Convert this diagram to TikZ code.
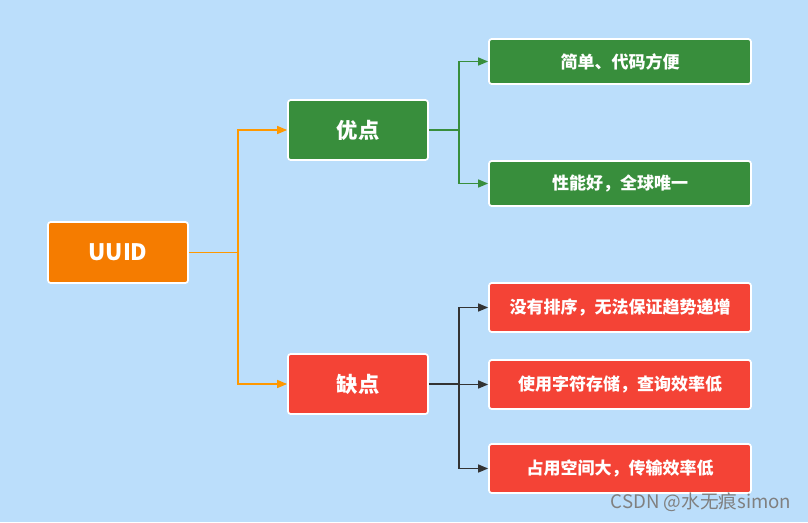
\documentclass[tikz,border=0pt]{standalone}
\usepackage{fontspec}
\newfontfamily\cjk{Noto Sans CJK SC}
\usetikzlibrary{arrows.meta}
\definecolor{bgblue}{HTML}{BBDEFB}
\definecolor{rootorange}{HTML}{F57C00}
\definecolor{linkorange}{HTML}{FF9800}
\definecolor{goodgreen}{HTML}{388E3C}
\definecolor{badred}{HTML}{F44336}
\definecolor{linkdark}{HTML}{333333}

\begin{document}
\begin{tikzpicture}[x=0.75pt,y=-0.75pt,
    box/.style={draw=white, line width=1.3pt, rounded corners=2pt, text=white,
      inner sep=0pt, font=\cjk\bfseries},
    mid/.style={box, minimum width=105pt, minimum height=45pt, font=\cjk\bfseries\fontsize{16}{19}\selectfont},
    leaf/.style={box, minimum width=196.5pt, font=\cjk\bfseries\fontsize{12.75}{15}\selectfont},
    link/.style={line width=1.1pt, -{Triangle[length=7.5pt,width=6pt]}}]
    \fill [bgblue] (0,0) rectangle (808,522) ;
    % root and first level
    \node [mid, fill=rootorange, minimum height=45.75pt,
      font=\cjk\bfseries\fontsize{17}{20}\selectfont] (uuid) at (118,252.5) {UUID} ;
    \node [mid, fill=goodgreen] (good) at (358,130) {优点} ;
    \node [mid, fill=badred] (bad) at (358,384) {缺点} ;
    % leaves
    \node [leaf, fill=goodgreen, minimum height=33.75pt] (good1) at (620,61.5) {简单、代码方便} ;
    \node [leaf, fill=goodgreen, minimum height=33.75pt] (good2) at (620,183.5) {性能好，全球唯一} ;
    \node [leaf, fill=badred, minimum height=36.75pt] (bad1) at (620,307.5) {没有排序，无法保证趋势递增} ;
    \node [leaf, fill=badred, minimum height=36.75pt] (bad2) at (620,384.5) {使用字符存储，查询效率低} ;
    \node [leaf, fill=badred, minimum height=36.75pt] (bad3) at (620,468.5) {占用空间大，传输效率低} ;
    % forks
    \coordinate (forkroot) at (238,252.5) ;
    \coordinate (forkgood) at (459,130) ;
    \coordinate (forkbad) at (459,384) ;
    \draw [line width=1.1pt, linkorange] (uuid.east) -- (forkroot) ;
    \foreach \n in {good,bad} {
      \draw [link, linkorange] (forkroot) |- (\n.west) ;
    }
    \draw [line width=1.1pt, goodgreen] (good.east) -- (forkgood) ;
    \foreach \n in {good1,good2} {
      \draw [link, goodgreen] (forkgood) |- (\n.west) ;
    }
    \draw [line width=1.1pt, linkdark] (bad.east) -- (forkbad) ;
    \foreach \n in {bad1,bad2,bad3} {
      \draw [link, linkdark] (forkbad) |- (\n.west) ;
    }
    \node [text=black!50, font=\cjk\fontsize{14}{16}\selectfont, anchor=east] (mark) at (796,502) {CSDN @水无痕simon} ;
  \end{tikzpicture}
\end{document}
